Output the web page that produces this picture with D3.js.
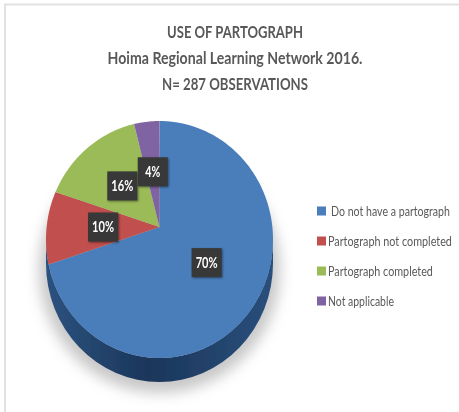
<!DOCTYPE html>
<html>
<head>
<meta charset="utf-8">
<script src="https://cdn.jsdelivr.net/npm/d3@7"></script>
<style>
  html, body { margin: 0; padding: 0; background: #fff; }
  svg { display: block; }
  text { font-family: Lato, "Open Sans", sans-serif; }
</style>
</head>
<body>
<svg id="chart" width="459" height="412"></svg>
<script>
const categories = ["Do not have a partograph", "Partograph not completed", "Partograph completed", "Not applicable"];
const values = [70, 10, 16, 4];
const colors = ["#4a7ebb", "#c0504d", "#9bbb59", "#8064a2"];
const titleLines = ["USE OF PARTOGRAPH", "Hoima Regional Learning Network 2016.", "N= 287 OBSERVATIONS"];

const width = 459, height = 412;
const cx = 159.5, cy = 239.5, rx = 113.5, ry = 118.5;
const depth = 24;
const tilt = -0.105; // moves the apex up from the middle of the ellipse

const svg = d3.select("#chart");
const defs = svg.append("defs");

defs.append("filter").attr("id", "soft").append("feGaussianBlur").attr("stdDeviation", 0.5);
defs.append("filter").attr("id", "shadow")
  .attr("x", "-20%").attr("y", "-20%").attr("width", "140%").attr("height", "140%")
  .append("feGaussianBlur").attr("stdDeviation", 7);
defs.append("filter").attr("id", "boxShadow")
  .attr("x", "-30%").attr("y", "-30%").attr("width", "160%").attr("height", "160%")
  .append("feGaussianBlur").attr("stdDeviation", 1.2);

const sideGrad = defs.append("linearGradient").attr("id", "side");
sideGrad.append("stop").attr("offset", "0%").attr("stop-color", "#2c527f");
sideGrad.append("stop").attr("offset", "45%").attr("stop-color", "#1b365a");
sideGrad.append("stop").attr("offset", "100%").attr("stop-color", "#2a4f7c");

// frame of the screenshot
svg.append("rect").attr("width", width).attr("height", height).attr("fill", "#fff");
svg.append("path")
  .attr("d", `M5,${height} V4.5 H${width}`)
  .attr("fill", "none").attr("stroke", "#e2e2e2").attr("stroke-width", 2);

const root = svg.append("g").attr("filter", "url(#soft)");

// squeeze a text to a given width, the source font is a narrow one
function squeeze(sel, x, y, w) {
  sel.attr("transform", function(d, i) {
    const natural = this.getComputedTextLength();
    return `translate(${x(d, i)},${y(d, i)}) scale(${w(d, i) / natural},1)`;
  });
}

// title
const titleY = d3.scalePoint().domain(titleLines).range([37, 89]);
const titleWidth = d3.scaleOrdinal().domain(titleLines).range([136, 255, 146]);
root.selectAll(".title").data(titleLines).join("text")
  .attr("class", "title")
  .attr("text-anchor", "middle")
  .attr("font-size", 17.5)
  .attr("font-weight", 700)
  .attr("fill", "#595959")
  .text(d => d)
  .call(squeeze, () => 235, d => titleY(d) + 0.5, d => titleWidth(d));

// perspective of the unit disc onto the pie's ellipse
function project(x, y) {
  const w = 1 + tilt * y;
  return [cx + rx * x * Math.sqrt(1 - tilt * tilt) / w, cy + ry * (y + tilt) / w];
}
// angle clockwise from the top
const onDisc = (a, r) => project(r * Math.sin(a), -r * Math.cos(a));

const pie = d3.pie().sort(null).value(d => d);
const arcs = pie(values);
const line = d3.line();

// shadow and side wall
root.append("ellipse")
  .attr("cx", cx).attr("cy", cy + depth + 6)
  .attr("rx", rx + 7).attr("ry", ry + 5)
  .attr("fill", "#9a9a9a").attr("opacity", 0.55)
  .attr("filter", "url(#shadow)");

root.append("path")
  .attr("d", `M${cx - rx},${cy} v${depth} a${rx},${ry} 0 0 0 ${2 * rx},0 v${-depth} a${rx},${ry} 0 0 1 ${-2 * rx},0 Z`)
  .attr("fill", "url(#side)");

// slices
function slicePath(d) {
  const steps = Math.ceil((d.endAngle - d.startAngle) / 0.02);
  const pts = d3.range(steps + 1).map(i => onDisc(d.startAngle + (d.endAngle - d.startAngle) * i / steps, 1));
  return line([project(0, 0), ...pts]) + "Z";
}
root.selectAll(".slice").data(arcs).join("path")
  .attr("class", "slice")
  .attr("d", slicePath)
  .attr("fill", (d, i) => colors[i]);

// data labels, at the middle of each slice's radius
const labelArc = d3.arc().innerRadius(0).outerRadius(1);
const labels = root.selectAll(".label").data(arcs).join("g")
  .attr("class", "label")
  .attr("transform", d => {
    const c = labelArc.centroid(d);
    const p = project(c[0], c[1]);
    return `translate(${p[0]},${p[1]})`;
  });
labels.append("rect")
  .attr("x", -14).attr("y", -13.5).attr("width", 30).attr("height", 29)
  .attr("fill", "#000").attr("opacity", 0.45).attr("filter", "url(#boxShadow)");
labels.append("rect")
  .attr("x", -15).attr("y", -14.5).attr("width", 30).attr("height", 29)
  .attr("fill", "#383838");
labels.append("text")
  .attr("text-anchor", "middle")
  .attr("font-size", 15)
  .attr("font-weight", 700)
  .attr("fill", "#fff")
  .text((d, i) => values[i] + "%")
  .call(squeeze, () => 0, () => 5, (d, i) => values[i] < 10 ? 15 : 22);

// legend
const legendY = d3.scalePoint().domain(categories).range([211, 301]);
const legendX = d3.scaleOrdinal().domain(categories).range([331, 328, 328, 328]);
const legendW = d3.scaleOrdinal().domain(categories).range([119, 124, 105, 66]);
const legend = root.selectAll(".legend").data(categories).join("g").attr("class", "legend");
legend.append("rect")
  .attr("x", 317).attr("y", d => legendY(d) - 4.5)
  .attr("width", 9).attr("height", 9)
  .attr("fill", (d, i) => colors[i]);
legend.append("text")
  .attr("font-size", 14)
  .attr("fill", "#595959")
  .text(d => d)
  .call(squeeze, d => legendX(d), d => legendY(d) + 4.5, d => legendW(d));
</script>
</body>
</html>
